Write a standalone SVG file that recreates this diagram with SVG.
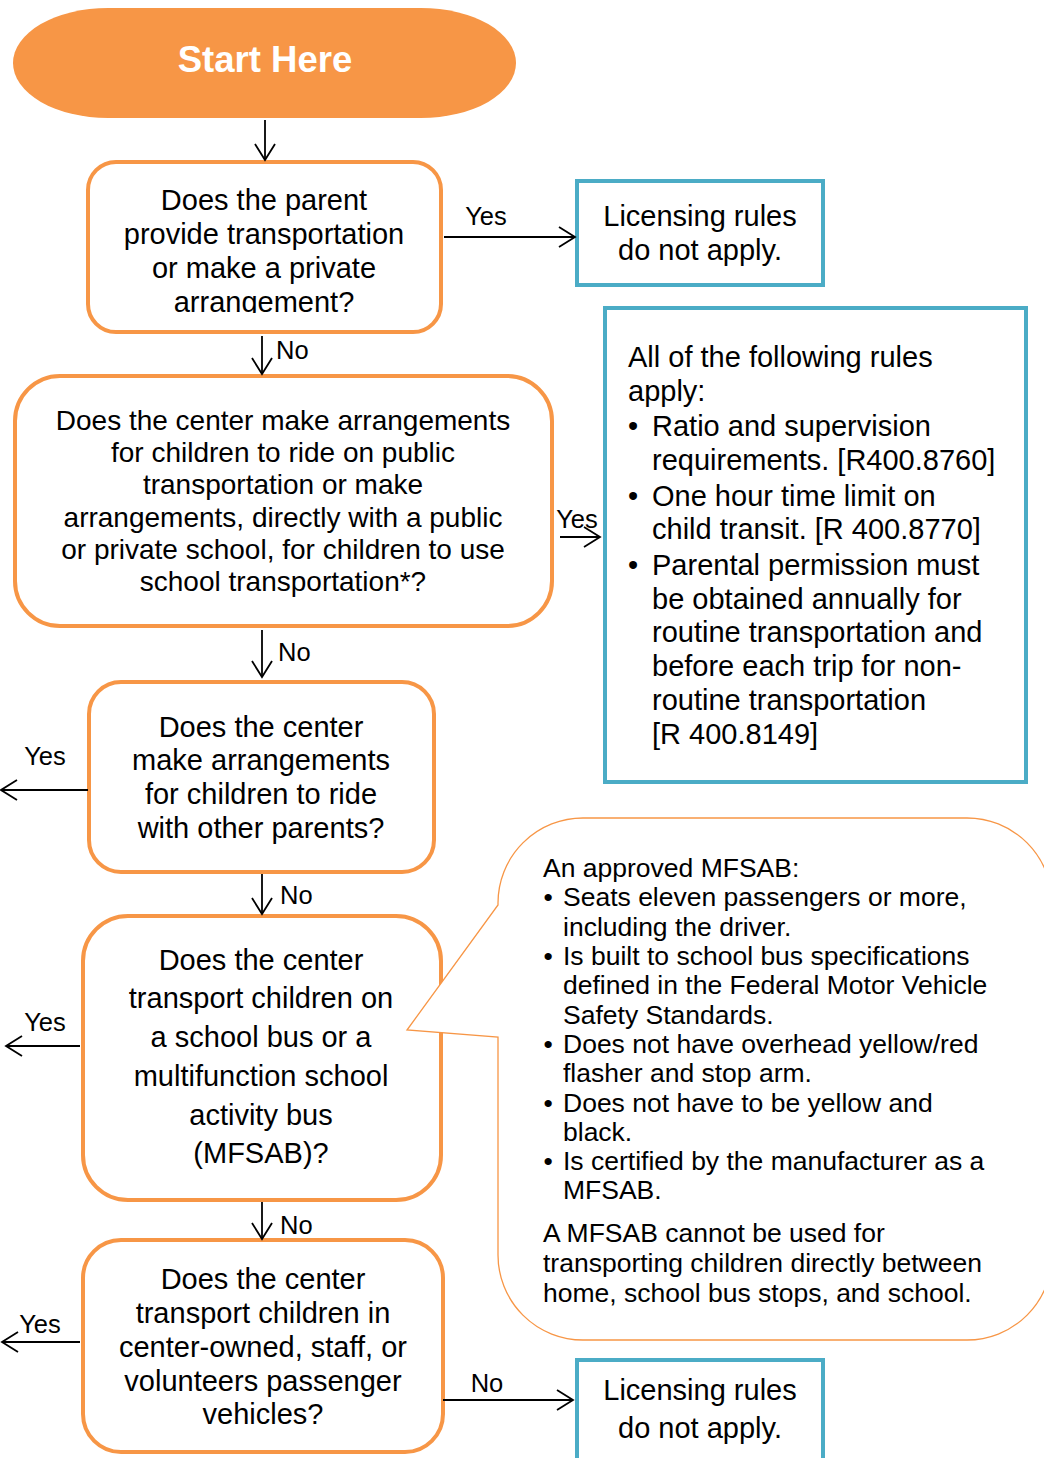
<svg xmlns="http://www.w3.org/2000/svg" width="1044" height="1458" viewBox="0 0 1044 1458">
<style>
.q{fill:#fff;stroke:#F79646;stroke-width:4}
.b{fill:#fff;stroke:#4BACC6;stroke-width:4}
.t{font-family:"Liberation Sans",Arial,sans-serif;fill:#000}
.c{text-anchor:middle}
.f29{font-size:29px}
.f28{font-size:28px}
.f26{font-size:26.5px}
.lab{font-size:25.5px}
.ln{stroke:#000;stroke-width:1.8;fill:none;marker-end:url(#ah)}
</style>
<defs>
<marker id="ah" markerUnits="userSpaceOnUse" markerWidth="24" markerHeight="24" viewBox="-18 -12 20 24" refX="0" refY="0" orient="auto">
<path d="M-16,-10 L0,0 L-16,10" fill="none" stroke="#000" stroke-width="1.8"/>
</marker>
<clipPath id="clip1"><rect x="80" y="160" width="370" height="153"/></clipPath>
</defs>

<g id="start">
<rect x="13" y="8" width="503" height="110" rx="95" ry="55" fill="#F79646"/>
<text class="t c" x="265" y="72" font-size="36.5" font-weight="bold" style="fill:#fff">Start Here</text>
</g>

<g id="q1">
<rect class="q" x="88" y="162" width="353" height="170" rx="28"/>
<g clip-path="url(#clip1)">
<text class="t c f29" x="264" y="210">Does the parent</text>
<text class="t c f29" x="264" y="244">provide transportation</text>
<text class="t c f29" x="264" y="278">or make a private</text>
<text class="t c f29" x="264" y="312">arrangement?</text>
</g>
</g>

<g id="na1">
<rect class="b" x="577" y="181" width="246" height="104"/>
<text class="t c f29" x="700" y="226">Licensing rules</text>
<text class="t c f29" x="700" y="260">do not apply.</text>
</g>

<g id="q2">
<rect class="q" x="15" y="376" width="537" height="250" rx="45"/>
<text class="t c f28" x="283" y="430">Does the center make arrangements</text>
<text class="t c f28" x="283" y="462">for children to ride on public</text>
<text class="t c f28" x="283" y="494">transportation or make</text>
<text class="t c f28" x="283" y="527">arrangements, directly with a public</text>
<text class="t c f28" x="283" y="559">or private school, for children to use</text>
<text class="t c f28" x="283" y="591">school transportation*?</text>
</g>

<g id="rules">
<rect class="b" x="605" y="308" width="421" height="474"/>
<text class="t f29" x="628" y="367">All of the following rules</text>
<text class="t f29" x="628" y="401">apply:</text>
<text class="t f29" x="628" y="436">•</text>
<text class="t f29" x="652" y="436">Ratio and supervision</text>
<text class="t f29" x="652" y="470">requirements. [R400.8760]</text>
<text class="t f29" x="628" y="506">•</text>
<text class="t f29" x="652" y="506">One hour time limit on</text>
<text class="t f29" x="652" y="539">child transit. [R 400.8770]</text>
<text class="t f29" x="628" y="575">•</text>
<text class="t f29" x="652" y="575">Parental permission must</text>
<text class="t f29" x="652" y="609">be obtained annually for</text>
<text class="t f29" x="652" y="642">routine transportation and</text>
<text class="t f29" x="652" y="676">before each trip for non-</text>
<text class="t f29" x="652" y="710">routine transportation</text>
<text class="t f29" x="652" y="744">[R 400.8149]</text>
</g>

<g id="q3">
<rect class="q" x="89" y="682" width="345" height="190" rx="32"/>
<text class="t c f29" x="261" y="737">Does the center</text>
<text class="t c f29" x="261" y="770">make arrangements</text>
<text class="t c f29" x="261" y="804">for children to ride</text>
<text class="t c f29" x="261" y="838">with other parents?</text>
</g>

<g id="q4">
<rect class="q" x="83" y="916" width="358" height="284" rx="45"/>
<text class="t c f29" x="261" y="970">Does the center</text>
<text class="t c f29" x="261" y="1008">transport children on</text>
<text class="t c f29" x="261" y="1047">a school bus or a</text>
<text class="t c f29" x="261" y="1086">multifunction school</text>
<text class="t c f29" x="261" y="1125">activity bus</text>
<text class="t c f29" x="261" y="1163">(MFSAB)?</text>
</g>

<g id="callout">
<path d="M583 818 H967 A85 85 0 0 1 1052 903 V1255 A85 85 0 0 1 967 1340 H583 A85 85 0 0 1 498 1255 V1037 L407 1030 L498 905 V903 A85 85 0 0 1 583 818 Z" fill="#fff" stroke="#F79646" stroke-width="1.3"/>
<text class="t f26" x="543" y="877">An approved MFSAB:</text>
<text class="t f26" x="543.5" y="906">•</text>
<text class="t f26" x="563" y="906">Seats eleven passengers or more,</text>
<text class="t f26" x="563" y="936">including the driver.</text>
<text class="t f26" x="543.5" y="965">•</text>
<text class="t f26" x="563" y="965">Is built to school bus specifications</text>
<text class="t f26" x="563" y="994">defined in the Federal Motor Vehicle</text>
<text class="t f26" x="563" y="1024">Safety Standards.</text>
<text class="t f26" x="543.5" y="1053">•</text>
<text class="t f26" x="563" y="1053">Does not have overhead yellow/red</text>
<text class="t f26" x="563" y="1082">flasher and stop arm.</text>
<text class="t f26" x="543.5" y="1112">•</text>
<text class="t f26" x="563" y="1112">Does not have to be yellow and</text>
<text class="t f26" x="563" y="1141">black.</text>
<text class="t f26" x="543.5" y="1170">•</text>
<text class="t f26" x="563" y="1170">Is certified by the manufacturer as a</text>
<text class="t f26" x="563" y="1199">MFSAB.</text>
<text class="t f26" x="543" y="1242">A MFSAB cannot be used for</text>
<text class="t f26" x="543" y="1272">transporting children directly between</text>
<text class="t f26" x="543" y="1302">home, school bus stops, and school.</text>
</g>

<g id="q5">
<rect class="q" x="83" y="1240" width="360" height="212" rx="38"/>
<text class="t c f29" x="263" y="1289">Does the center</text>
<text class="t c f29" x="263" y="1323">transport children in</text>
<text class="t c f29" x="263" y="1357">center-owned, staff, or</text>
<text class="t c f29" x="263" y="1391">volunteers passenger</text>
<text class="t c f29" x="263" y="1424">vehicles?</text>
</g>

<g id="na2">
<rect class="b" x="577" y="1360" width="246" height="110"/>
<text class="t c f29" x="700" y="1400">Licensing rules</text>
<text class="t c f29" x="700" y="1438">do not apply.</text>
</g>

<g id="connectors">
<line class="ln" x1="265" y1="120" x2="265" y2="160"/>
<line class="ln" x1="444" y1="237" x2="575" y2="237"/>
<text class="t c lab" x="486" y="225">Yes</text>
<line class="ln" x1="262" y1="336" x2="262" y2="374"/>
<text class="t lab" x="276" y="359">No</text>
<line class="ln" x1="560" y1="537" x2="600" y2="537"/>
<text class="t c lab" x="577" y="528">Yes</text>
<line class="ln" x1="262" y1="630" x2="262" y2="677"/>
<text class="t lab" x="278" y="661">No</text>
<line class="ln" x1="88" y1="790" x2="1" y2="790"/>
<text class="t c lab" x="45" y="765">Yes</text>
<line class="ln" x1="262" y1="874" x2="262" y2="914"/>
<text class="t lab" x="280" y="904">No</text>
<line class="ln" x1="80" y1="1046" x2="6" y2="1046"/>
<text class="t c lab" x="45" y="1031">Yes</text>
<line class="ln" x1="262" y1="1202" x2="262" y2="1239"/>
<text class="t lab" x="280" y="1234">No</text>
<line class="ln" x1="80" y1="1342" x2="2" y2="1342"/>
<text class="t c lab" x="40" y="1333">Yes</text>
<line class="ln" x1="443" y1="1400" x2="573" y2="1400"/>
<text class="t c lab" x="487" y="1392">No</text>
</g>
</svg>
